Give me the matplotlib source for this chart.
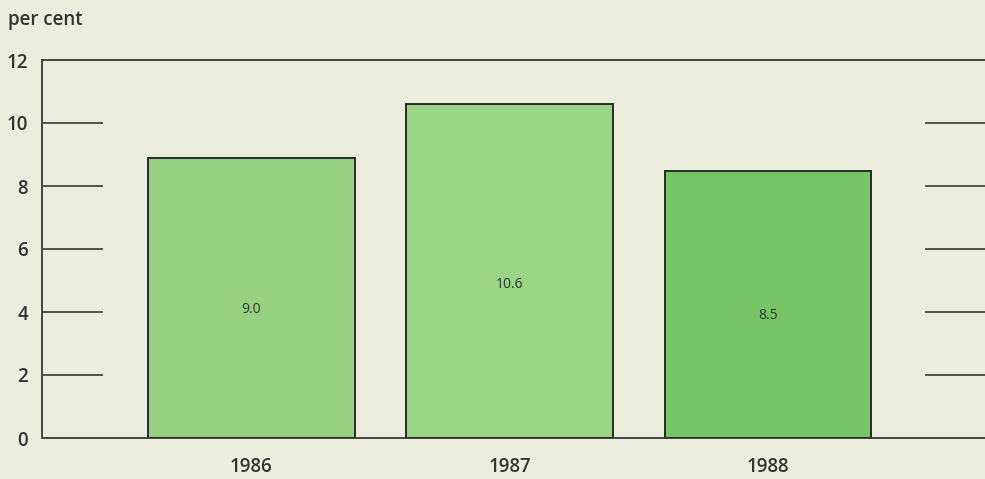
import numpy as np
import matplotlib.pyplot as plt

years = ['1986', '1987', '1988']
values = [8.9, 10.6, 8.48]
labels = ['9.0', '10.6', '8.5']
colors = ['#95d180', '#9ad485', '#76c466']
yticks = [0, 2, 4, 6, 8, 10, 12]

bg = '#eceedd'
ink = '#333333'

fig = plt.figure(figsize=(9.85, 4.79), dpi=100, facecolor=bg)
ax = fig.add_axes([42/985, 1-438/479, 1-42/985, 378/479])
ax.set_facecolor(bg)

x = np.arange(len(years))
ax.bar(x, values, width=0.8, color=colors, edgecolor='#2a2a2a', linewidth=1.4, zorder=3)
for xi, v, lab in zip(x, values, labels):
    ax.text(xi, v*0.46, lab, ha='center', va='center', fontsize=10,
            family='Open Sans', color=ink, zorder=4)

ax.set_xlim(-0.81, 2.84)
ax.set_ylim(0, 12)

# short tick lines on both sides
tr = ax.get_yaxis_transform()
for t in yticks[1:-1]:
    ax.plot([0, 0.064], [t, t], color='#444444', lw=1.3, transform=tr, zorder=2)
    ax.plot([0.937, 1.0], [t, t], color='#444444', lw=1.3, transform=tr, zorder=2)

for s in ['left', 'top', 'bottom']:
    ax.spines[s].set_color('#444444')
    ax.spines[s].set_linewidth(1.4)
ax.spines['right'].set_visible(False)

ax.set_yticks(yticks)
ax.set_yticklabels([str(t) for t in yticks], fontsize=13.5, family='Open Sans',
                   fontweight='semibold', color=ink)
ax.tick_params(axis='y', length=0, pad=10)
ax.set_xticks(x)
ax.set_xticklabels(years, fontsize=13.5, family='Open Sans', fontweight='semibold', color=ink)
ax.tick_params(axis='x', length=0, pad=14)

fig.text(8/985, 1-20/479, 'per cent', fontsize=13.5, family='Open Sans',
         fontweight='semibold', color=ink, va='center', ha='left')

fig.savefig('out.png', dpi=100, facecolor=bg)
